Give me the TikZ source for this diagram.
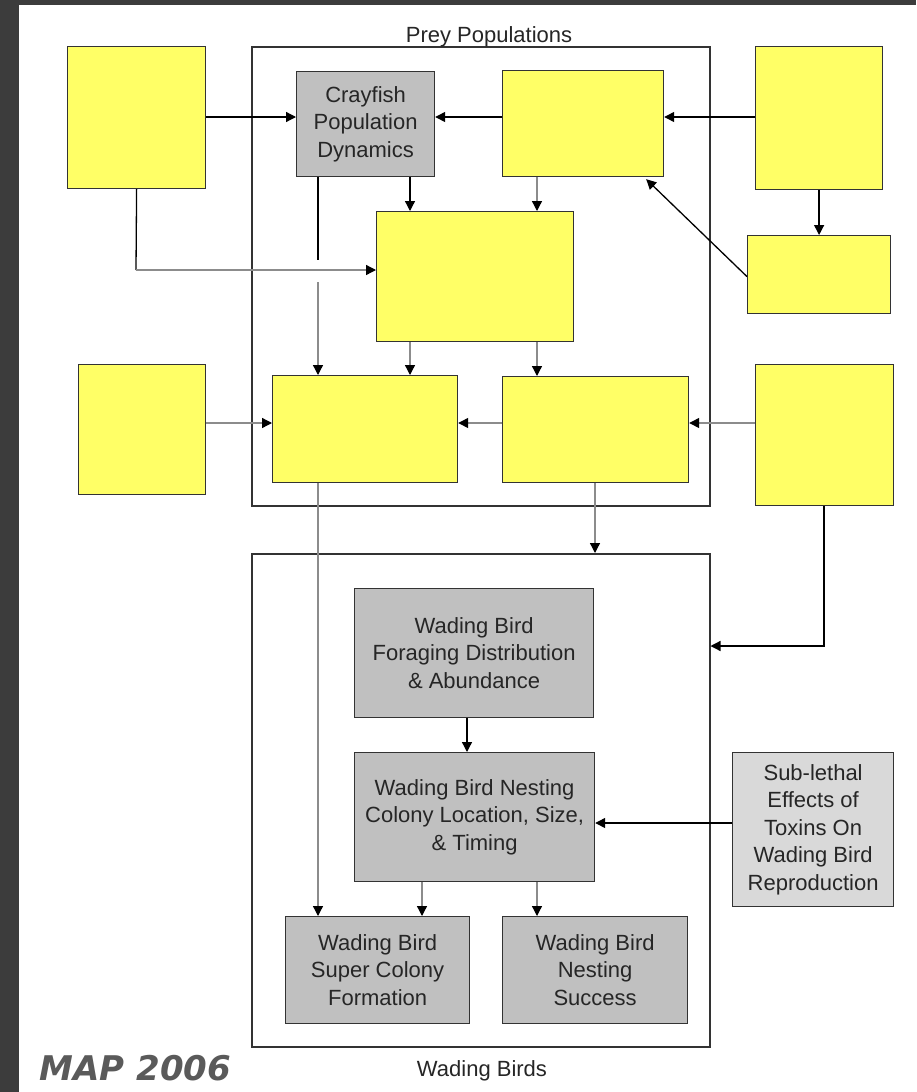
\documentclass[tikz,border=0pt]{standalone}
\usepackage{fontspec}
\setmainfont{Liberation Sans}
\newfontfamily\mapfont{DejaVu Sans}
\usetikzlibrary{arrows.meta}
\definecolor{boxyellow}{HTML}{FFFF66}
\definecolor{boxgray}{HTML}{C0C0C0}
\definecolor{lightgray}{HTML}{D9D9D9}
\definecolor{edgegray}{HTML}{333333}
\definecolor{linegray}{HTML}{8C8C8C}
\definecolor{frame}{HTML}{3C3C3C}
\definecolor{mapgray}{HTML}{5A5A5A}
\tikzset{
  ybox/.style={draw=edgegray, line width=1.2pt, fill=boxyellow, anchor=north west, inner sep=0pt},
  gbox/.style={draw=edgegray, line width=1.2pt, fill=boxgray, anchor=north west, inner sep=0pt,
    align=center, text=black!85, font=\fontsize{22}{27.5}\selectfont},
  group/.style={draw=edgegray, line width=1.5pt, anchor=north west, inner sep=0pt},
  line/.style={line width=1.3pt, black},
  arr/.style={line, -{Triangle[length=10pt,width=10pt]}},
  garr/.style={line width=1.3pt, draw=linegray, -{Triangle[length=10pt,width=10pt,fill=black,color=black]}}
}
\begin{document}
\begin{tikzpicture}[x=1pt,y=-1pt]
  % page and dark frame
  \fill[white] (0,0) rectangle (916,1092);
  \fill[frame] (0,0) rectangle (19,1092);
  \fill[frame] (0,0) rectangle (916,5);
  \useasboundingbox (0,0) rectangle (916,1092);

  % groups
  \node[group, minimum width=458, minimum height=459] (preybox) at (251,46) {};
  \node[group, minimum width=458, minimum height=493] (wadebox) at (251,553) {};
  \node[font=\fontsize{22}{26}\selectfont, text=black!85] (preytitle) at (489,37) {Prey Populations};
  \node[font=\fontsize{22}{26}\selectfont, text=black!85] (wadetitle) at (482,1071) {Wading Birds};

  % prey boxes
  \node[ybox, minimum width=138, minimum height=142] (y1) at (67,46) {};
  \node[gbox, minimum width=138, minimum height=105] (cray) at (296,71) {Crayfish\\Population\\Dynamics};
  \node[ybox, minimum width=161, minimum height=106] (y2) at (502,70) {};
  \node[ybox, minimum width=127, minimum height=143] (y3) at (755,46) {};
  \node[ybox, minimum width=143, minimum height=78] (y4) at (747,235) {};
  \node[ybox, minimum width=197, minimum height=130] (y5) at (376,211) {};
  \node[ybox, minimum width=127, minimum height=130] (y6) at (78,364) {};
  \node[ybox, minimum width=185, minimum height=107] (y7) at (272,375) {};
  \node[ybox, minimum width=186, minimum height=106] (y8) at (502,376) {};
  \node[ybox, minimum width=138, minimum height=141] (y9) at (755,364) {};

  % wading bird boxes
  \node[gbox, minimum width=239, minimum height=129] (forage) at (354,588) {Wading Bird\\Foraging Distribution\\\& Abundance};
  \node[gbox, minimum width=240, minimum height=129] (colony) at (354,752) {Wading Bird Nesting\\Colony Location, Size,\\\& Timing};
  \node[gbox, minimum width=184, minimum height=107] (super) at (285,916) {Wading Bird\\Super Colony\\Formation};
  \node[gbox, minimum width=185, minimum height=107] (success) at (502,916) {Wading Bird\\Nesting\\Success};
  \node[gbox, fill=lightgray, minimum width=161, minimum height=154] (toxin) at (732,752) {Sub-lethal\\Effects of\\Toxins On\\Wading Bird\\Reproduction};

  \node[anchor=west, text=mapgray, font=\mapfont\bfseries\itshape\fontsize{34}{40}\selectfont] (mapmark) at (36,1068) {MAP 2006};

  % columns and rows for the connectors
  \coordinate (xa) at (318,0);
  \coordinate (xb) at (410,0);
  \coordinate (xc) at (537,0);
  \coordinate (xd) at (595,0);
  \coordinate (xe) at (422,0);
  \coordinate (xf) at (467,0);
  \coordinate (rowtop) at (0,117);
  \coordinate (rowmid) at (0,423);
  \coordinate (rowtox) at (0,823);
  \coordinate (j1) at (136,270);
  \coordinate (j2) at (824,646);
  \coordinate (hoptop) at (318,260);
  \coordinate (hopbot) at (318,282);

  % top row
  \draw[arr] (y1.east |- rowtop) -- (cray.west |- rowtop);
  \draw[arr] (y2.west |- rowtop) -- (cray.east |- rowtop);
  \draw[arr] (y3.west |- rowtop) -- (y2.east |- rowtop);
  \draw[arr] (y3.south) -- (y4.north);
  \draw[arr] ([yshift=-2pt]y4.west) -- ([xshift=-18pt,yshift=-2pt]y2.south east);

  % into the centre box
  \draw[line] (y1.south) -- (j1);
  \draw[garr] (j1) -- (j1 -| y5.west);
  \draw[arr] (cray.south -| xb) -- (y5.north -| xb);
  \draw[garr] (y2.south -| xc) -- (y5.north -| xc);

  % crayfish line hops over
  \draw[line] (cray.south -| xa) -- (hoptop);
  \draw[garr] (hopbot) -- (y7.north -| xa);
  \draw[garr] (y5.south -| xb) -- (y7.north -| xb);
  \draw[garr] (y5.south -| xc) -- (y8.north -| xc);

  % middle row
  \draw[garr] (y6.east |- rowmid) -- (y7.west |- rowmid);
  \draw[garr] (y8.west |- rowmid) -- (y7.east |- rowmid);
  \draw[garr] (y9.west |- rowmid) -- (y8.east |- rowmid);

  % down to the wading birds
  \draw[garr] (y8.south -| xd) -- (wadebox.north -| xd);
  \draw[arr] (y9.south -| j2) -- (j2) -- (j2 -| wadebox.east);
  \draw[garr] (y7.south -| xa) -- (super.north -| xa);
  \draw[arr] (forage.south -| xf) -- (colony.north -| xf);
  \draw[arr] (toxin.west |- rowtox) -- (colony.east |- rowtox);
  \draw[garr] (colony.south -| xe) -- (super.north -| xe);
  \draw[garr] (colony.south -| xc) -- (success.north -| xc);
\end{tikzpicture}
\end{document}
